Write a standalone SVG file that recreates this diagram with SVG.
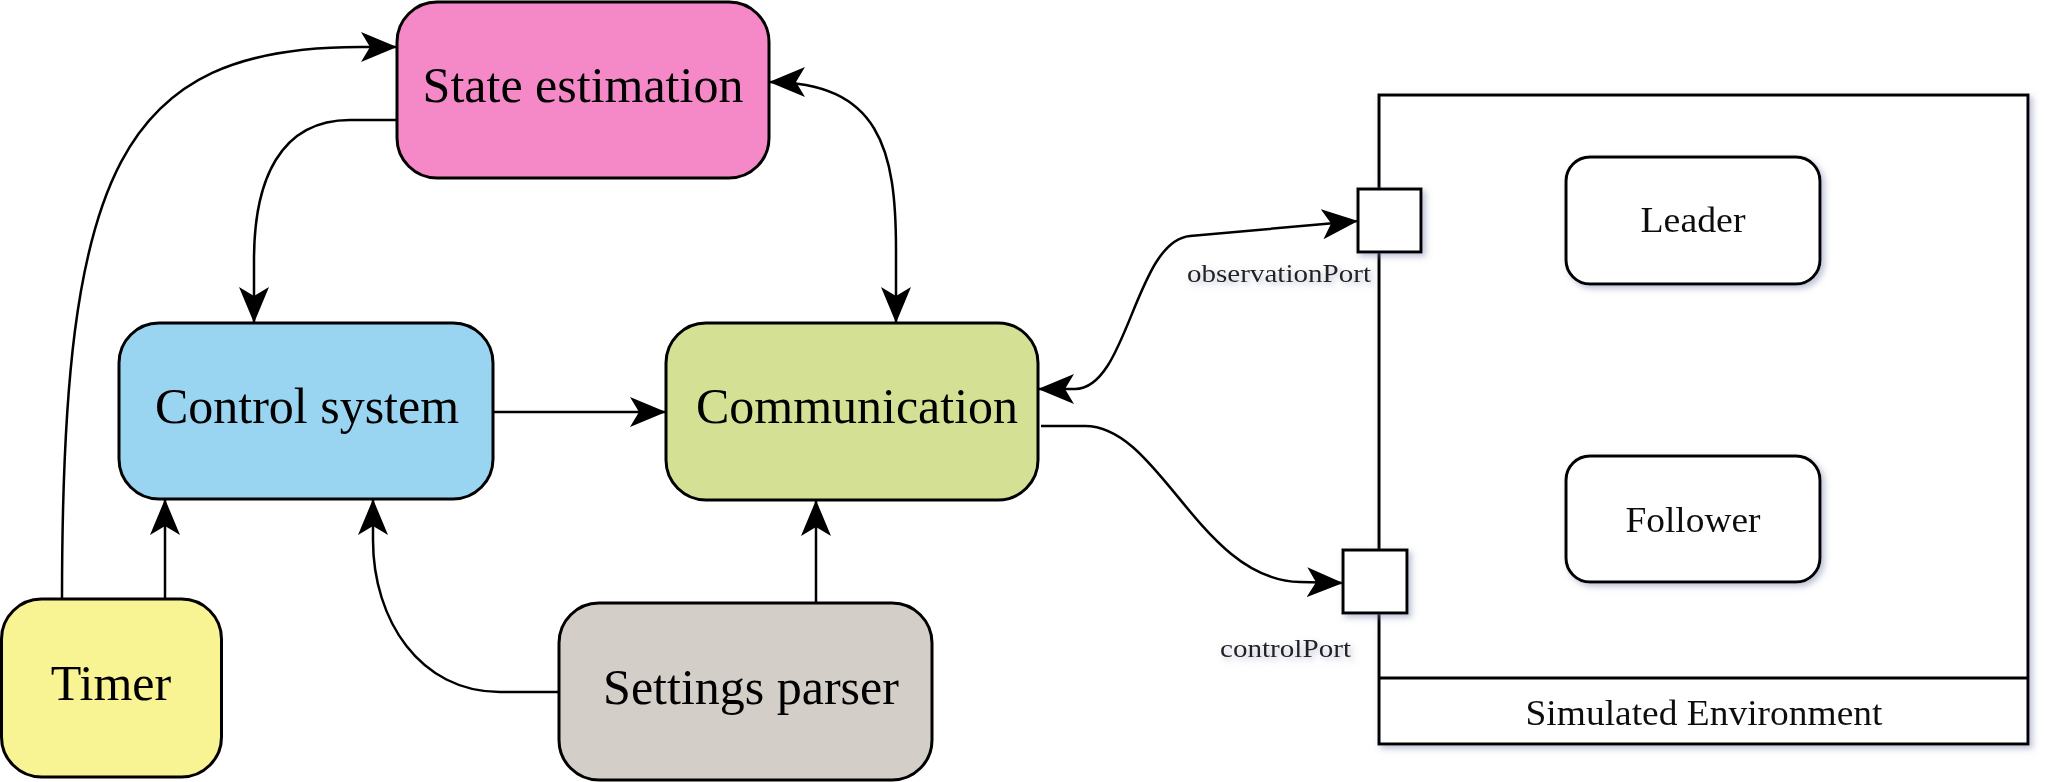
<svg xmlns="http://www.w3.org/2000/svg" width="2046" height="782" viewBox="0 0 2046 782">
<style>
.node{stroke:#000;stroke-width:3}
.lbl{font-family:"Liberation Serif","Times New Roman",serif;font-size:50px;fill:#000;text-anchor:middle}
.sm{font-family:"Liberation Serif","Times New Roman",serif;font-size:35px;fill:#111;text-anchor:middle}
.port{font-family:"Liberation Serif","Times New Roman",serif;font-size:25px;fill:#222;text-anchor:start}
.con{fill:none;stroke:#000;stroke-width:2.5}
</style>
<defs>
<marker id="arr" markerUnits="userSpaceOnUse" markerWidth="40" markerHeight="32" refX="36" refY="15" orient="auto-start-reverse">
<path d="M0,0 L36,15 L0,30 L9,15 Z" fill="#000"/>
</marker>
<filter id="sh" x="-10%" y="-10%" width="120%" height="120%">
<feDropShadow dx="3" dy="3" stdDeviation="3" flood-color="#7880a8" flood-opacity="0.5"/>
</filter>
</defs>
<rect width="2046" height="782" fill="#fff"/>

<g id="connectors">
<path class="con" d="M62,599 C62,170 120,47 360,47 L397,47" marker-end="url(#arr)"/>
<path class="con" d="M397,120 L350,120 C280,120 254,180 254,260 L254,323" marker-end="url(#arr)"/>
<path class="con" d="M769,82 C880,82 896,150 896,250 L896,323" marker-start="url(#arr)" marker-end="url(#arr)"/>
<path class="con" d="M493,412 L666,412" marker-end="url(#arr)"/>
<path class="con" d="M165,599 L165,499" marker-end="url(#arr)"/>
<path class="con" d="M559,692 L500,692 C420,692 373,620 373,540 L373,499" marker-end="url(#arr)"/>
<path class="con" d="M816,603 L816,500" marker-end="url(#arr)"/>
<path class="con" d="M1038,389 L1075,389 C1128,389 1135,241 1190,236 L1358,221" marker-start="url(#arr)" marker-end="url(#arr)"/>
<path class="con" d="M1041,426 L1085,426 C1160,426 1200,580 1300,582 L1343,583" marker-end="url(#arr)"/>
</g>

<g id="state-estimation">
<rect class="node" x="397" y="2" width="372" height="176" rx="40" fill="#F589C8"/>
<text class="lbl" x="583" y="102">State estimation</text>
</g>
<g id="control-system">
<rect class="node" x="119" y="323" width="374" height="176" rx="40" fill="#99D5F1"/>
<text class="lbl" x="307" y="423">Control system</text>
</g>
<g id="communication">
<rect class="node" x="666" y="323" width="372" height="177" rx="40" fill="#D4E195"/>
<text class="lbl" x="857" y="423">Communication</text>
</g>
<g id="timer">
<rect class="node" x="1.5" y="599" width="220" height="178" rx="40" fill="#F9F493"/>
<text class="lbl" x="111" y="700">Timer</text>
</g>
<g id="settings-parser">
<rect class="node" x="559" y="603" width="373" height="177" rx="40" fill="#D3CEC8"/>
<text class="lbl" x="751" y="704">Settings parser</text>
</g>

<g id="simulated-environment" filter="url(#sh)">
<rect x="1379" y="95" width="649" height="649" fill="#fff" stroke="#000" stroke-width="3"/>
<line x1="1379" y1="678" x2="2028" y2="678" stroke="#000" stroke-width="3"/>
<text class="sm" x="1704" y="725" textLength="357" lengthAdjust="spacingAndGlyphs">Simulated Environment</text>
</g>
<g id="leader" filter="url(#sh)">
<rect x="1566" y="157" width="254" height="127" rx="24" fill="#fff" stroke="#000" stroke-width="3"/>
<text class="sm" x="1693" y="232" textLength="105" lengthAdjust="spacingAndGlyphs">Leader</text>
</g>
<g id="follower" filter="url(#sh)">
<rect x="1566" y="456" width="254" height="126" rx="24" fill="#fff" stroke="#000" stroke-width="3"/>
<text class="sm" x="1693" y="532" textLength="135" lengthAdjust="spacingAndGlyphs">Follower</text>
</g>
<g id="observation-port" filter="url(#sh)">
<rect x="1358" y="189" width="63" height="63" fill="#fff" stroke="#000" stroke-width="3"/>
<text class="port" x="1187" y="282" textLength="184" lengthAdjust="spacingAndGlyphs">observationPort</text>
</g>
<g id="control-port" filter="url(#sh)">
<rect x="1343" y="550" width="64" height="63" fill="#fff" stroke="#000" stroke-width="3"/>
<text class="port" x="1220" y="657" textLength="131" lengthAdjust="spacingAndGlyphs">controlPort</text>
</g>
</svg>
